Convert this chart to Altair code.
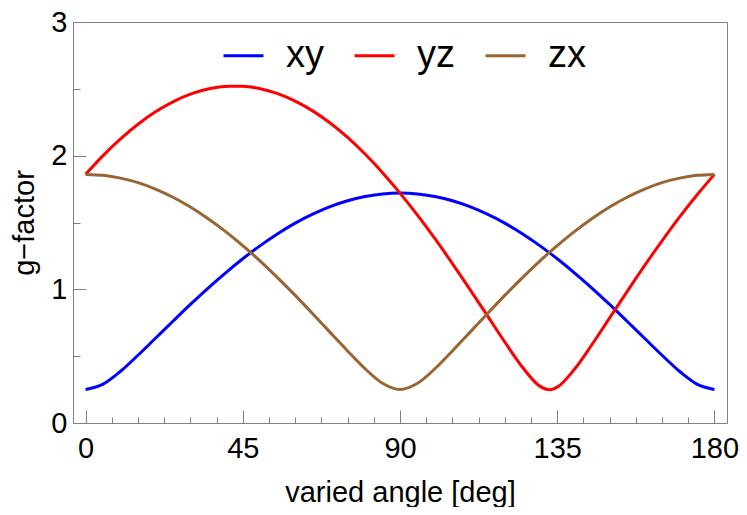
import altair as alt
import pandas as pd

# ---- data ----
angles = [0, 5, 10, 15, 20, 25, 30, 35, 40, 45, 50, 55, 60, 65, 70, 75, 80, 85, 90,
          95, 100, 105, 110, 115, 120, 125, 130, 133, 135, 140, 145, 150, 155, 160,
          165, 170, 175, 180]

g_xy = [0.250, 0.291, 0.387, 0.507, 0.634, 0.761, 0.887, 1.008, 1.122, 1.229,
        1.327, 1.416, 1.495, 1.562, 1.619, 1.663, 1.694, 1.714, 1.720,
        1.714, 1.694, 1.663, 1.619, 1.562, 1.495, 1.416, 1.327, 1.269, 1.229,
        1.122, 1.008, 0.887, 0.761, 0.634, 0.507, 0.387, 0.291, 0.250]

g_yz = [1.860, 2.000, 2.125, 2.235, 2.328, 2.403, 2.460, 2.499, 2.518, 2.519,
        2.501, 2.464, 2.408, 2.335, 2.244, 2.136, 2.012, 1.873, 1.720,
        1.555, 1.379, 1.193, 1.000, 0.803, 0.606, 0.419, 0.276, 0.249, 0.268,
        0.404, 0.589, 0.786, 0.983, 1.177, 1.363, 1.540, 1.706, 1.860]

g_zx = [1.860, 1.853, 1.832, 1.798, 1.750, 1.689, 1.616, 1.530, 1.434, 1.327,
        1.211, 1.086, 0.955, 0.818, 0.678, 0.539, 0.406, 0.297, 0.250,
        0.297, 0.406, 0.539, 0.678, 0.818, 0.955, 1.086, 1.211, 1.282, 1.327,
        1.434, 1.530, 1.616, 1.689, 1.750, 1.798, 1.832, 1.853, 1.860]

series_names = ["xy", "yz", "zx"]
series_colors = ["#0000FF", "#FF0000", "#996633"]

x_major = [0, 45, 90, 135, 180]
x_minor = [0, 7.5, 15, 22.5, 30, 37.5, 45, 52.5, 60, 67.5, 75, 82.5, 90,
           97.5, 105, 112.5, 120, 127.5, 135, 142.5, 150, 157.5, 165, 172.5, 180]
y_major = [0, 1, 2, 3]
y_minor = [0.5, 1.5, 2.5]

x_title = "varied angle [deg]"
y_title = "g\u2212factor"

# ---- build table ----
rows = []
for name, vals in zip(series_names, [g_xy, g_yz, g_zx]):
    for a, v in zip(angles, vals):
        rows.append({"angle": a, "g": v, "series": name})
df = pd.DataFrame(rows)

FONT = "Liberation Sans"
FRAME = "#808080"
xdom = [-3.6, 183.6]
ydom = [0, 3]

xscale = alt.Scale(domain=xdom, nice=False, zero=False)
yscale = alt.Scale(domain=ydom, nice=False, zero=False)

lines = alt.Chart(df).mark_line(strokeWidth=3, interpolate="monotone").encode(
    x=alt.X("angle:Q", scale=xscale,
            axis=alt.Axis(orient="bottom", values=x_major, format="d",
                          tickSize=13, offset=-13, domain=False, grid=False,
                          tickColor=FRAME, tickWidth=1,
                          labelFont=FONT, labelFontSize=29, labelColor="black",
                          labelPadding=11, labelFlush=False, labelOverlap=False,
                          title=x_title, titleFont=FONT, titleFontSize=29,
                          titleFontWeight="normal", titleColor="black",
                          titleY=91, titleBaseline="alphabetic")),
    y=alt.Y("g:Q", scale=yscale,
            axis=alt.Axis(orient="left", values=y_major, format="d",
                          tickSize=13, offset=-13, domain=False, grid=False,
                          tickColor=FRAME, tickWidth=1,
                          labelFont=FONT, labelFontSize=29, labelColor="black",
                          labelPadding=6, labelFlush=False, labelOverlap=False,
                          title=y_title, titleFont=FONT, titleFontSize=29,
                          titleFontWeight="normal", titleColor="black",
                          titleAngle=270, titleX=-53, titleBaseline="alphabetic")),
    color=alt.Color("series:N",
                    scale=alt.Scale(domain=series_names, range=series_colors),
                    legend=alt.Legend(title=None, orient="none", legendX=149, legendY=12,
                                      direction="horizontal", symbolType="stroke",
                                      symbolSize=1600, symbolStrokeWidth=3,
                                      labelFont=FONT, labelFontSize=38, labelColor="black",
                                      labelOffset=21, columnPadding=24, padding=0)),
)

minor = alt.Chart(df).mark_point(opacity=0).encode(
    x=alt.X("angle:Q", scale=xscale,
            axis=alt.Axis(orient="bottom", values=x_minor, tickSize=6, offset=-6,
                          domain=False, grid=False, labels=False, title=None,
                          tickColor=FRAME, tickWidth=1)),
    y=alt.Y("g:Q", scale=yscale,
            axis=alt.Axis(orient="left", values=y_minor, tickSize=7, offset=-7,
                          domain=False, grid=False, labels=False, title=None,
                          tickColor=FRAME, tickWidth=1)),
)

chart = alt.layer(lines, minor).resolve_scale(
    x="independent", y="independent"
).properties(
    width=654, height=401,
    autosize=alt.AutoSizeParams(type="none"),
    padding={"left": 65, "top": 14, "right": 12, "bottom": 84},
).configure_view(stroke=FRAME, strokeWidth=1)

chart.save("out.html", embed_options={"renderer": "svg", "actions": False})
